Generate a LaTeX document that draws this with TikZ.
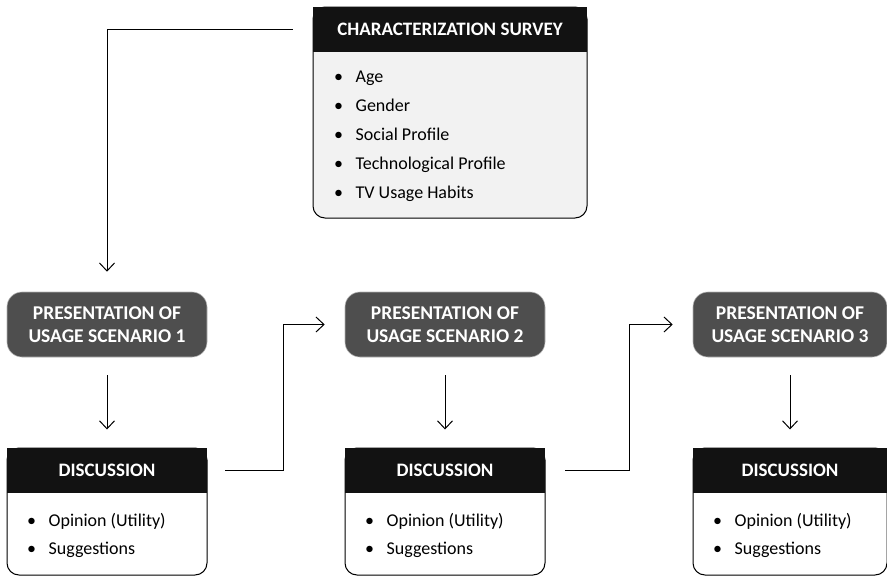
\documentclass[tikz,border=0pt]{standalone}
\usepackage{fontspec}
\setmainfont{Carlito}
\usetikzlibrary{arrows.meta}
\definecolor{headblack}{HTML}{121212}
\definecolor{stagegray}{HTML}{4E4E4E}
\definecolor{paper}{HTML}{F2F2F2}
\newcommand{\bul}{\textbullet\hspace{12.5pt}}
\begin{document}
\begin{tikzpicture}[x=1pt,y=-1pt,
  panel/.style={draw=black, line width=1pt, fill=#1, rounded corners=12pt,
    inner sep=0pt},
  head/.style={fill=headblack, text=white, inner sep=0pt, minimum height=45pt,
    font=\bfseries\fontsize{19}{22}\selectfont},
  stage/.style={fill=stagegray, draw=gray!60, line width=0.6pt, rounded corners=15pt,
    text=white, align=center, minimum height=65pt,
    font=\bfseries\fontsize{19.5}{23}\selectfont},
  items/.style={anchor=north west, inner sep=0pt, align=left,
    font=\fontsize{18}{29}\selectfont},
  link/.style={line width=1pt, -{Straight Barb[length=8pt,width=15pt,line width=1pt]}}]
\useasboundingbox (0,0) rectangle (887,576);

% characterization survey
\node[panel=paper, minimum width=274pt, minimum height=211pt] (cs) at (450,112.5) {};
\node[head, minimum width=274pt, anchor=north] (csh) at (cs.north) {CHARACTERIZATION SURVEY};
\node[items] (csl) at (334,71) {\bul Age\\ \bul Gender\\
  \bul Social Profile\\ \bul Technological Profile\\
  \bul TV Usage Habits};

% presentation stages
\node[stage, minimum width=200pt] (p1) at (107,324.5) {PRESENTATION OF\\USAGE SCENARIO 1};
\node[stage, minimum width=200pt] (p2) at (445,324.5) {PRESENTATION OF\\USAGE SCENARIO 2};
\node[stage, minimum width=194pt] (p3) at (790,324.5) {PRESENTATION OF\\USAGE SCENARIO 3};

% discussion panels
\node[panel=white, minimum width=200pt, minimum height=127pt] (d1) at (107,511.5) {};
\node[panel=white, minimum width=200pt, minimum height=127pt] (d2) at (445,511.5) {};
\node[panel=white, minimum width=194pt, minimum height=127pt] (d3) at (790,511.5) {};
\node[head, minimum width=200pt, anchor=north] (dh1) at (d1.north) {DISCUSSION};
\node[head, minimum width=200pt, anchor=north] (dh2) at (d2.north) {DISCUSSION};
\node[head, minimum width=194pt, anchor=north] (dh3) at (d3.north) {DISCUSSION};
\tikzset{dlist/.style={items, font=\fontsize{18}{28.5}\selectfont}}
\node[dlist] (dl1) at (27,513) {\bul Opinion (Utility)\\ \bul Suggestions};
\node[dlist] (dl2) at (365,513) {\bul Opinion (Utility)\\ \bul Suggestions};
\node[dlist] (dl3) at (713,513) {\bul Opinion (Utility)\\ \bul Suggestions};

% connectors
\draw[link, shorten <=20pt, shorten >=20pt] (csh.west) -| (p1.north);
\draw[link, shorten <=18pt, shorten >=18pt] (p1.south) -- (dh1.north);
\draw[link, shorten <=18pt, shorten >=18pt] (p2.south) -- (dh2.north);
\draw[link, shorten <=18pt, shorten >=18pt] (p3.south) -- (dh3.north);
\draw[link, shorten <=18pt, shorten >=20pt] (dh1.east) -- ++(76,0) |- (p2.west);
\draw[link, shorten <=20pt, shorten >=20pt] (dh2.east) -- ++(84,0) |- (p3.west);
\end{tikzpicture}
\end{document}
